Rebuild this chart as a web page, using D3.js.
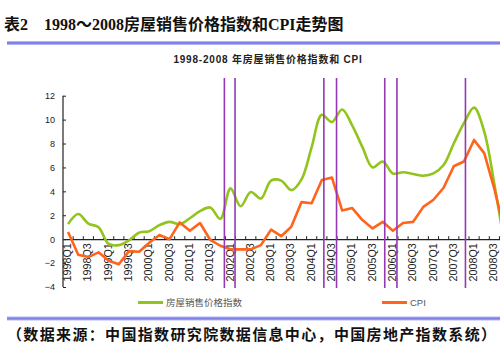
<!DOCTYPE html>
<html>
<head>
<meta charset="utf-8">
<script src="https://cdn.jsdelivr.net/npm/d3@7"></script>
<style>
  html, body { margin: 0; padding: 0; background: #fff; }
  svg { display: block; }
</style>
</head>
<body>
<svg id="chart" width="500" height="350"></svg>
<script>
// Quarterly categories on the x axis
const quarters = [
  "1998Q1","1998Q2","1998Q3","1998Q4",
  "1999Q1","1999Q2","1999Q3","1999Q4",
  "2000Q1","2000Q2","2000Q3","2000Q4",
  "2001Q1","2001Q2","2001Q3","2001Q4",
  "2002Q1","2002Q2","2002Q3","2002Q4",
  "2003Q1","2003Q2","2003Q3","2003Q4",
  "2004Q1","2004Q2","2004Q3","2004Q4",
  "2005Q1","2005Q2","2005Q3","2005Q4",
  "2006Q1","2006Q2","2006Q3","2006Q4",
  "2007Q1","2007Q2","2007Q3","2007Q4",
  "2008Q1","2008Q2","2008Q3","2008Q4"
];

// 房屋销售价格指数 (year-on-year, %)
const housingIndex = [
  1.26, 2.1, 1.3, 1.0,
  -0.4, -0.5, -0.1, 0.55,
  0.67, 1.17, 1.45, 1.25,
  1.75, 2.35, 2.65, 1.7,
  4.25, 2.75, 3.95, 3.4,
  4.9, 4.9, 4.1, 5.0,
  7.7, 10.4, 9.8, 10.85,
  9.5, 7.7, 6.0, 6.5,
  5.5, 5.6, 5.45, 5.3,
  5.5, 6.2, 8.0, 9.7,
  11.0, 9.0, 4.6, -0.5
];

// CPI (year-on-year, %)
const cpi = [
  0.6, -1.3, -1.5, -1.1,
  -1.8, -2.1, -1.0, -1.05,
  -0.3, 0.35, 0.0, 1.4,
  0.7, 1.35, -0.05, -0.55,
  -0.85, -0.85, -0.85, -0.5,
  0.8, 0.25, 1.05, 3.1,
  3.0, 4.95, 5.15, 2.4,
  2.6, 1.6, 0.9, 1.45,
  0.7, 1.35, 1.45, 2.7,
  3.3, 4.3, 6.1, 6.5,
  8.3, 7.2, 4.2, 0.7
];

const yTicks = [-4, -2, 0, 2, 4, 6, 8, 10, 12];

// Event markers, in quarter-index units (0 = 1998Q1)
const markerQuarters = [15.4, 16.45, 25.2, 26.45, 31.2, 32.4, 39.15];

const seriesNames = ["房屋销售价格指数", "CPI"];

const svg = d3.select("#chart");

// --- page header ---
svg.append("text")
  .attr("x", 4).attr("y", 30)
  .attr("font-family", "'Liberation Serif', 'Noto Sans CJK SC', serif")
  .attr("font-weight", "bold")
  .attr("font-size", 16)
  .attr("fill", "#111")
  .text("表2　1998～2008房屋销售价格指数和CPI走势图");

function rule(y) {
  svg.append("line")
    .attr("x1", 7).attr("x2", 500)
    .attr("y1", y).attr("y2", y)
    .attr("stroke", "#b4b4f2").attr("stroke-width", 4);
  svg.append("line")
    .attr("x1", 7).attr("x2", 500)
    .attr("y1", y).attr("y2", y)
    .attr("stroke", "#7f7fe6").attr("stroke-width", 2);
}
rule(43);
rule(318.5);

// --- chart title ---
svg.append("text")
  .attr("x", 268).attr("y", 63)
  .attr("text-anchor", "middle")
  .attr("font-family", "'Liberation Sans', 'Noto Sans CJK SC', sans-serif")
  .attr("font-weight", "bold")
  .attr("font-size", 10)
  .attr("letter-spacing", 0.8)
  .attr("fill", "#222")
  .text("1998-2008 年房屋销售价格指数和 CPI");

// --- scales ---
const x = d3.scaleBand()
  .domain(quarters)
  .range([63, 63 + quarters.length * 10.15]);
const bw = x.bandwidth();
const cx = q => x(q) + bw / 2;
const xIdx = d3.scaleLinear()
  .domain([0, quarters.length - 1])
  .range([cx(quarters[0]), cx(quarters[quarters.length - 1])]);

const y = d3.scaleLinear().domain([-4, 12]).range([287, 95.7]);

// --- y axis ---
const yAxis = d3.axisRight(y)
  .tickValues(yTicks)
  .tickSize(3)
  .tickFormat(d3.format("d"));
const gy = svg.append("g")
  .attr("transform", `translate(${x.range()[0]},0)`)
  .call(yAxis);
gy.select(".domain").attr("stroke", "#222").attr("stroke-width", 1.2).attr("d", `M0,${y(-4)}V${y(12)}`);
gy.selectAll(".tick line").attr("stroke", "#222");
gy.selectAll(".tick text")
  .attr("x", -8)
  .attr("text-anchor", "end")
  .attr("font-family", "'Liberation Sans', Arial, sans-serif")
  .attr("font-size", 9)
  .attr("fill", "#222");

// --- x axis on the zero line ---
const xAxis = d3.axisTop(x)
  .tickSize(0)
  .tickFormat("");
const gx = svg.append("g")
  .attr("transform", `translate(0,${y(0)})`)
  .call(xAxis);
gx.select(".domain").attr("stroke", "#222").attr("stroke-width", 1.2);

// tick marks at category boundaries
gx.selectAll("line.qtick")
  .data(quarters.slice(1))
  .join("line")
  .attr("class", "qtick")
  .attr("x1", d => x(d)).attr("x2", d => x(d))
  .attr("y1", 0).attr("y2", -3)
  .attr("stroke", "#222");

// rotated quarter labels, every other quarter
gx.selectAll("text.qlabel")
  .data(quarters.filter((d, i) => i % 2 === 0))
  .join("text")
  .attr("class", "qlabel")
  .attr("transform", d => `translate(${cx(d)},4) rotate(-90)`)
  .attr("dy", "0.28em")
  .attr("text-anchor", "end")
  .attr("font-family", "'Liberation Sans', Arial, sans-serif")
  .attr("font-size", 10.8)
  .attr("fill", "#222")
  .text(d => d);

// --- series ---
const housingLine = d3.line()
  .x((d, i) => cx(quarters[i]))
  .y(d => y(d))
  .curve(d3.curveCatmullRom.alpha(0.5));

const cpiLine = d3.line()
  .x((d, i) => cx(quarters[i]))
  .y(d => y(d));

svg.append("path")
  .datum(housingIndex)
  .attr("d", housingLine)
  .attr("fill", "none")
  .attr("stroke", "#92c41e")
  .attr("stroke-width", 2.6)
  .attr("stroke-linejoin", "round");

svg.append("path")
  .datum(cpi)
  .attr("d", cpiLine)
  .attr("fill", "none")
  .attr("stroke", "#ff631c")
  .attr("stroke-width", 2.6)
  .attr("stroke-linejoin", "round");

// --- event markers ---
svg.selectAll("line.marker")
  .data(markerQuarters)
  .join("line")
  .attr("class", "marker")
  .attr("x1", d => xIdx(d)).attr("x2", d => xIdx(d))
  .attr("y1", 78).attr("y2", 288)
  .attr("stroke", "#9438b4")
  .attr("stroke-width", 1.6);

// --- legend ---
const legend = [
  { name: seriesNames[0], color: "#92c41e", x: 138 },
  { name: seriesNames[1], color: "#ff631c", x: 382 }
];
const lg = svg.selectAll("g.legend")
  .data(legend)
  .join("g")
  .attr("class", "legend")
  .attr("transform", d => `translate(${d.x},302.5)`);
lg.append("line")
  .attr("x1", 0).attr("x2", 25)
  .attr("stroke", d => d.color)
  .attr("stroke-width", 3);
lg.append("text")
  .attr("x", 28).attr("dy", "0.35em")
  .attr("font-family", "'Liberation Sans', 'Noto Sans CJK SC', sans-serif")
  .attr("font-size", 9.5)
  .attr("fill", "#555")
  .text(d => d.name);

// --- source note ---
svg.append("text")
  .attr("x", 7).attr("y", 340)
  .attr("font-family", "'Liberation Serif', 'Noto Sans CJK SC', serif")
  .attr("font-weight", "bold")
  .attr("font-size", 15)
  .attr("textLength", 489)
  .attr("lengthAdjust", "spacing")
  .attr("fill", "#111")
  .text("（数据来源：中国指数研究院数据信息中心，中国房地产指数系统）");
</script>
</body>
</html>
